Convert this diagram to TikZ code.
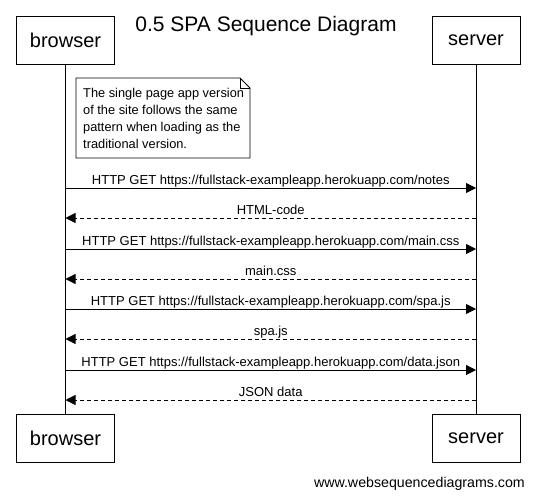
\documentclass[tikz,border=0pt]{standalone}
\usepackage{fontspec}
\setmainfont{Liberation Sans}
\usetikzlibrary{arrows.meta}
\begin{document}
\begin{tikzpicture}[x=1pt,y=-1pt,
  actor/.style={draw,line width=0.8pt,minimum width=98pt,minimum height=48pt,font=\fontsize{20}{24}\selectfont,inner sep=0pt},
  actor2/.style={actor,minimum width=88pt},
  lifeline/.style={line width=0.8pt},
  msg/.style={line width=0.8pt,-{Triangle[length=10pt,width=10pt]}},
  reply/.style={msg,dash pattern=on 4pt off 3pt},
  lbl/.style={font=\fontsize{13}{15}\selectfont,inner sep=0pt,midway,anchor=base,yshift=4pt},
]
\useasboundingbox (0,0) rectangle (534,498);
\node[font=\fontsize{21}{24}\selectfont,anchor=base,inner sep=0pt] (title) at (266,31) {0.5 SPA Sequence Diagram};
\node[actor] (bt) at (65.5,40) {browser};
\node[actor2] (st) at (476,40) {server};
\node[actor] (bb) at (65.5,438) {browser};
\node[actor2] (sb) at (476,438) {server};
\draw[lifeline] (bt.south) -- (bb.north);
\draw[lifeline] (st.south) -- (sb.north);
% note
\draw[line width=0.8pt,fill=white] (76,78) -- (240,78) -- (250,88) -- (250,158) -- (76,158) -- cycle;
\draw[line width=0.8pt] (240,78) -- (240,88) -- (250,88);
\node[font=\fontsize{12.8}{16.7}\selectfont,align=left,anchor=base west,inner sep=0pt] (note) at (83,148)
  {The single page app version\\of the site follows the same\\pattern when loading as the\\traditional version.};
% messages
\foreach \i/\y in {1/188,2/218,3/249,4/279,5/309,6/339,7/370,8/400}{
  \coordinate (b\i) at (bt.south |- 0,\y);
  \coordinate (s\i) at (st.south |- 0,\y);
}
\draw[msg] (b1) -- node[lbl] (m1) {HTTP GET https://fullstack-exampleapp.herokuapp.com/notes} (s1);
\draw[reply] (s2) -- node[lbl] (m2) {HTML-code} (b2);
\draw[msg] (b3) -- node[lbl] (m3) {HTTP GET https://fullstack-exampleapp.herokuapp.com/main.css} (s3);
\draw[reply] (s4) -- node[lbl] (m4) {main.css} (b4);
\draw[msg] (b5) -- node[lbl] (m5) {HTTP GET https://fullstack-exampleapp.herokuapp.com/spa.js} (s5);
\draw[reply] (s6) -- node[lbl] (m6) {spa.js} (b6);
\draw[msg] (b7) -- node[lbl] (m7) {HTTP GET https://fullstack-exampleapp.herokuapp.com/data.json} (s7);
\draw[reply] (s8) -- node[lbl] (m8) {JSON data} (b8);
\node[font=\fontsize{14.2}{16}\selectfont,anchor=base east,inner sep=0pt] (footer) at (525,487) {www.websequencediagrams.com};
\end{tikzpicture}
\end{document}
